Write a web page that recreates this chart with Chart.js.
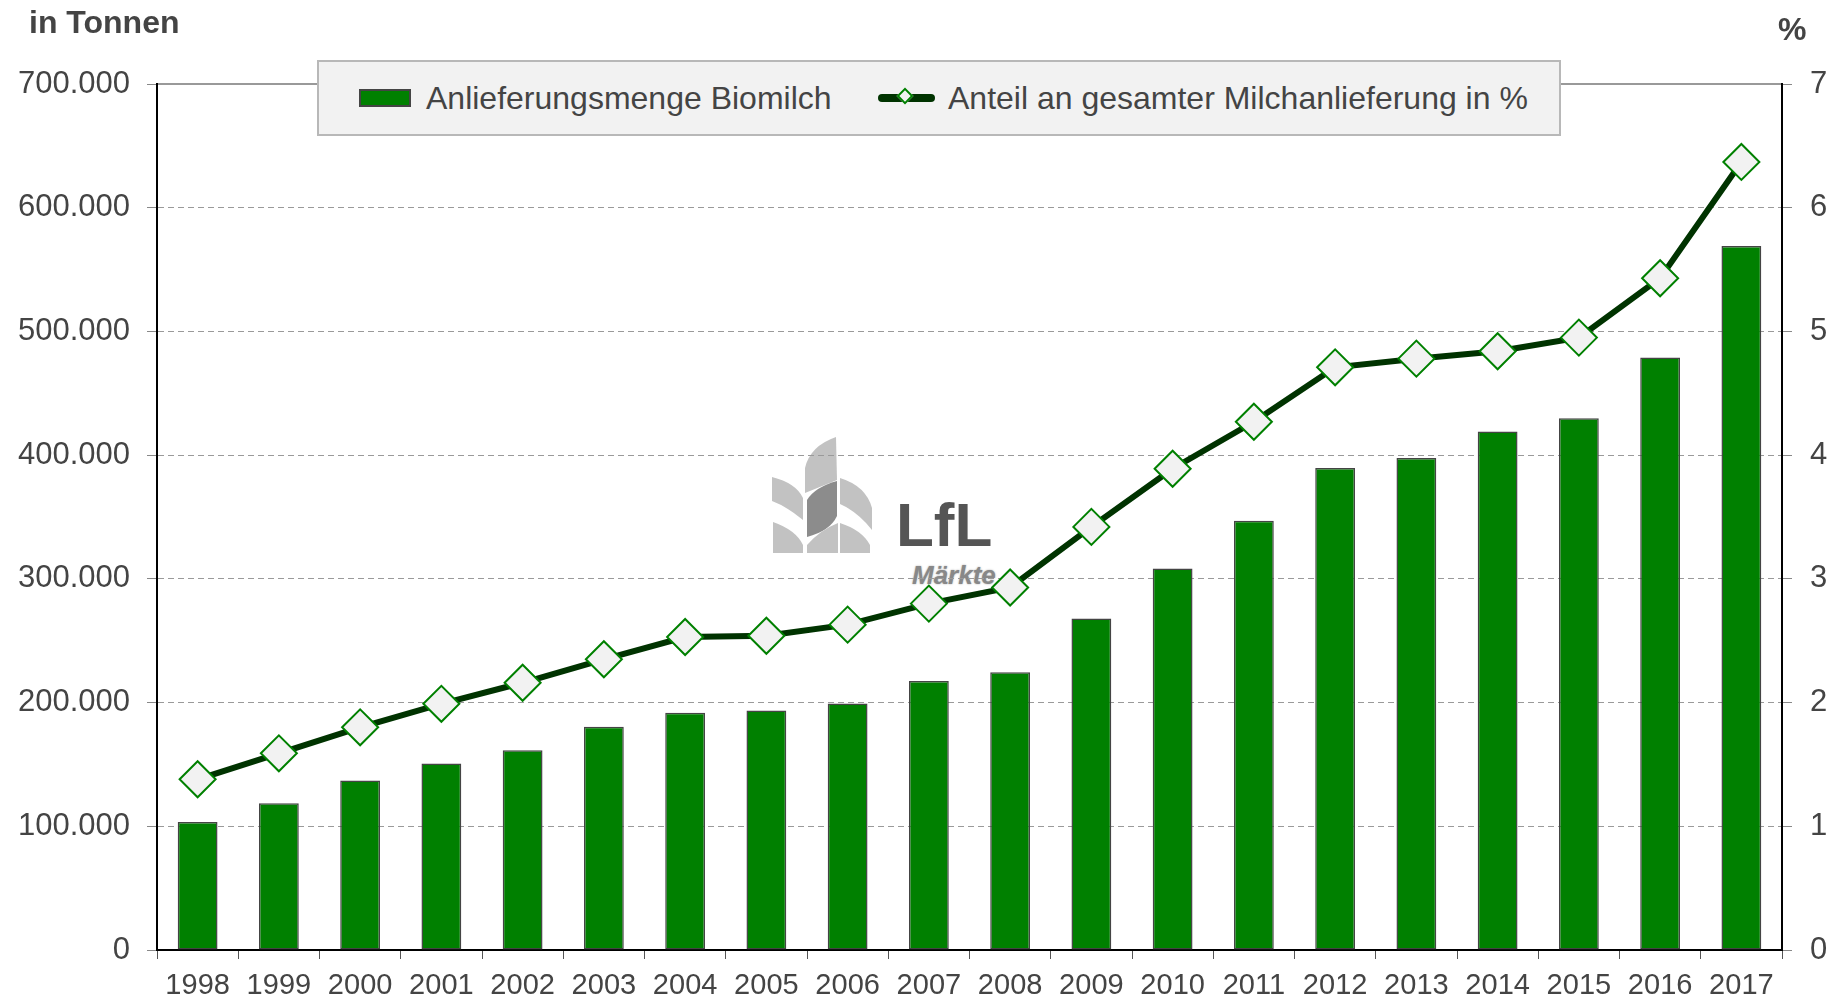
<!DOCTYPE html>
<html lang="de">
<head>
  <meta charset="UTF-8">
  <title>Biomilch Anlieferung</title>
  <script src="https://cdn.jsdelivr.net/npm/chart.js"></script>
  <style>
    body { margin: 0; background: #fff; overflow: hidden; font-family: "Liberation Sans", Arial, sans-serif; }
    #wrap { position: relative; width: 1840px; height: 1001px; }
    #logo { position: absolute; left: 0; top: 0; z-index: 0; }
    #chartBox { position: absolute; left: 0; top: 0; width: 1840px; height: 1001px; z-index: 1; }
    .axisTitle { position: absolute; font-weight: bold; font-size: 32px; line-height: 32px; color: #444; z-index: 2; }
    .lfl { position: absolute; color: #555; font-weight: bold; z-index: 0; }
    #legend { position: absolute; left: 317px; top: 60px; width: 1244px; height: 76px; box-sizing: border-box;
      background: #f2f2f2; border: 2px solid #b8b8b8; z-index: 3; }
    #legend .txt { position: absolute; top: 0; line-height: 72px; font-size: 32px; color: #444; white-space: nowrap; }
  </style>
</head>
<body>
<div id="wrap">
  <svg id="logo" width="1840" height="1001">
    <path d="M805,493 L805,468 Q810,446 836,437 L837,480 Z" fill="#c2c2c2"/>
    <path d="M837,481 L837,516 Q830,531 807,537 L807,500 Q815,487 837,481 Z" fill="#8c8c8c"/>
    <path d="M772,477 Q796,483 803,498 L803,520 Q786,506 772,501 Z" fill="#c2c2c2"/>
    <path d="M840,478 Q866,486 872,508 L872,530 Q858,512 840,504 Z" fill="#c2c2c2"/>
    <path d="M773,522 Q796,530 803,545 L803,553 L773,553 Z" fill="#c2c2c2"/>
    <path d="M838,523 L838,553 L807,553 L807,545 Q820,530 838,523 Z" fill="#c2c2c2"/>
    <path d="M840,523 Q862,530 870,545 L870,553 L840,553 Z" fill="#c2c2c2"/>
  </svg>
  <div class="lfl" style="left:896px; top:494px; font-size:62px; line-height:62px;">LfL</div>
  <div class="lfl" style="left:912px; top:562px; font-size:26px; line-height:26px; font-style:italic; color:#888; text-shadow:0 0 2px #aaa;">Märkte</div>

  <div id="chartBox"><canvas id="milkChart"></canvas></div>

  <div class="axisTitle" style="left:29px; top:6px;">in Tonnen</div>
  <div class="axisTitle" style="left:1778px; top:13px;">%</div>

  <div id="legend">
    <div style="position:absolute; left:40px; top:27px; width:52px; height:18px; box-sizing:border-box; background:#008000; border:2px solid #444;"></div>
    <div class="txt" style="left:107px;">Anlieferungsmenge Biomilch</div>
    <div style="position:absolute; left:559px; top:32px; width:57px; height:8px; border-radius:4px; background:#003300;"></div>
    <div style="position:absolute; left:580px; top:28px; width:12px; height:12px; box-sizing:border-box; transform:rotate(45deg); background:#f2f2f2; border:2px solid #008000;"></div>
    <div class="txt" style="left:629px;">Anteil an gesamter Milchanlieferung in %</div>
  </div>
</div>

<script>
  // data
  const years = ['1998', '1999', '2000', '2001', '2002', '2003', '2004', '2005', '2006', '2007',
                 '2008', '2009', '2010', '2011', '2012', '2013', '2014', '2015', '2016', '2017']
  const biomilchTonnen = [103500, 118600, 137000, 150700, 161500, 180400, 191700, 193500, 199200, 217500,
                          224500, 268000, 308400, 347000, 389700, 397700, 419100, 429800, 479000, 569000]
  const anteilProzent = [1.38, 1.59, 1.80, 1.99, 2.16, 2.35, 2.53, 2.54, 2.63, 2.80,
                         2.93, 3.42, 3.89, 4.27, 4.71, 4.78, 4.84, 4.95, 5.43, 6.37]
  const tonnenAxis = { min: 0, max: 700000, step: 100000 }
  const prozentAxis = { min: 0, max: 7, step: 1 }

  function formatDe(v) {
    return String(v).replace(/\B(?=(\d{3})+(?!\d))/g, '.')
  }

  const labelFont = { family: '"Liberation Sans", Arial, sans-serif', size: 31 }

  new Chart(document.getElementById('milkChart'), {
    type: 'bar',
    data: {
      labels: years,
      datasets: [
        {
          type: 'line',
          label: 'Anteil an gesamter Milchanlieferung in %',
          data: anteilProzent,
          yAxisID: 'yPct',
          borderColor: '#003300',
          borderWidth: 6,
          tension: 0,
          pointStyle: 'rectRot',
          pointRadius: 18,
          pointBorderWidth: 2,
          pointBackgroundColor: '#f2f2f2',
          pointBorderColor: '#008000',
          order: 0
        },
        {
          label: 'Anlieferungsmenge Biomilch',
          data: biomilchTonnen,
          yAxisID: 'y',
          backgroundColor: '#008000',
          borderColor: '#444',
          borderWidth: 1.5,
          borderSkipped: false,
          categoryPercentage: 1,
          barPercentage: 0.49,
          order: 1
        }
      ]
    },
    options: {
      responsive: true,
      maintainAspectRatio: false,
      animation: false,
      layout: { padding: { top: 84, left: 0, right: 0, bottom: 0 } },
      plugins: { legend: { display: false }, tooltip: { enabled: false } },
      scales: {
        x: {
          type: 'category',
          offset: true,
          grid: { display: true, drawOnChartArea: false, drawTicks: true, tickLength: 9, color: '#555', offset: true },
          border: { display: true, color: '#000', width: 2 },
          ticks: { font: { family: labelFont.family, size: 29 }, color: '#444', padding: 10, maxRotation: 0, autoSkip: false },
          afterFit: (s) => { s.height = 51 }
        },
        xTop: {
          type: 'category',
          position: 'top',
          labels: years,
          grid: { display: false },
          ticks: { display: false },
          border: { display: true, color: '#999', width: 2 },
          afterFit: (s) => { s.height = 0 }
        },
        y: {
          position: 'left',
          min: tonnenAxis.min,
          max: tonnenAxis.max,
          ticks: { stepSize: tonnenAxis.step, font: labelFont, color: '#444', padding: 17, callback: (v) => formatDe(v) },
          grid: { color: '#9a9a9a', lineWidth: 1, tickLength: 10, tickColor: '#888', tickBorderDash: [] },
          border: { display: true, color: '#000', width: 2, dash: [6, 4] },
          afterFit: (s) => { s.width = 157 }
        },
        yPct: {
          position: 'right',
          min: prozentAxis.min,
          max: prozentAxis.max,
          ticks: { stepSize: prozentAxis.step, font: labelFont, color: '#444', padding: 18 },
          grid: { drawOnChartArea: false, tickLength: 10, tickColor: '#888' },
          border: { display: true, color: '#000', width: 2 },
          afterFit: (s) => { s.width = 58 }
        }
      }
    }
  })
</script>
</body>
</html>
